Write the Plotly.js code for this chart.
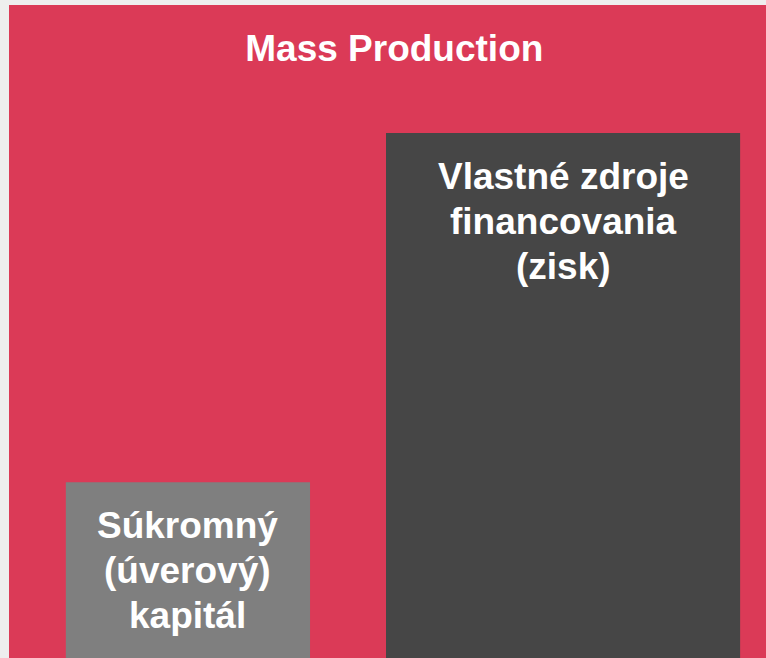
<!DOCTYPE html>
<html>
<head>
<meta charset="utf-8">
<script src="https://cdn.plot.ly/plotly-3.0.1.min.js"></script>
<style>html,body{margin:0;padding:0;background:#eeeeee;}#chart{width:766px;height:658px;}</style>
</head>
<body>
<div id="chart"></div>
<script>
const categories = ["Súkromný (úverový) kapitál", "Vlastné zdroje financovania (zisk)"];
const labelLines = [["Súkromný", "(úverový)", "kapitál"], ["Vlastné zdroje", "financovania", "(zisk)"]];
const values = [33.5, 100];
const barColors = ["#7f7f7f", "#464646"];
const chartTitle = "Mass Production";

const xpos = categories.map((c, i) => i);
const FONT = "'Liberation Sans', Arial, sans-serif";
const FS = 37;
const LINE = 45;

const trace = {
  type: "bar",
  x: xpos,
  y: values,
  width: [0.651, 0.944],
  marker: { color: barColors, line: { width: 0 } },
  hoverinfo: "skip",
  text: categories,
  textposition: "none"
};

const annotations = [];
xpos.forEach((x, i) => {
  labelLines[i].forEach((line, k) => {
    annotations.push({
      x: x, y: values[i], xref: "x", yref: "y",
      text: line, showarrow: false,
      xanchor: "center", yanchor: "middle", yshift: -(43 + k * LINE),
      font: { family: FONT, size: FS, color: "#ffffff", weight: "bold" },
      align: "center"
    });
  });
});

const layout = {
  width: 766, height: 658,
  margin: { l: 9, r: 0, t: 5, b: 0, pad: 0 },
  paper_bgcolor: "#eeeeee",
  plot_bgcolor: "#db3a57",
  showlegend: false,
  font: { family: FONT },
  title: {
    text: "<b>" + chartTitle + "</b>",
    font: { family: FONT, size: FS, color: "#ffffff" },
    xref: "paper", x: 0.509, xanchor: "center",
    yref: "container", y: 1 - 48 / 658, yanchor: "middle"
  },
  xaxis: { range: [-0.477, 1.541], showgrid: false, zeroline: false, showticklabels: false, ticks: "", fixedrange: true },
  yaxis: { range: [0, 124.4], showgrid: false, zeroline: false, showticklabels: false, ticks: "", fixedrange: true },
  annotations: annotations
};

Plotly.newPlot("chart", [trace], layout, { displayModeBar: false, staticPlot: true });
</script>
</body>
</html>
